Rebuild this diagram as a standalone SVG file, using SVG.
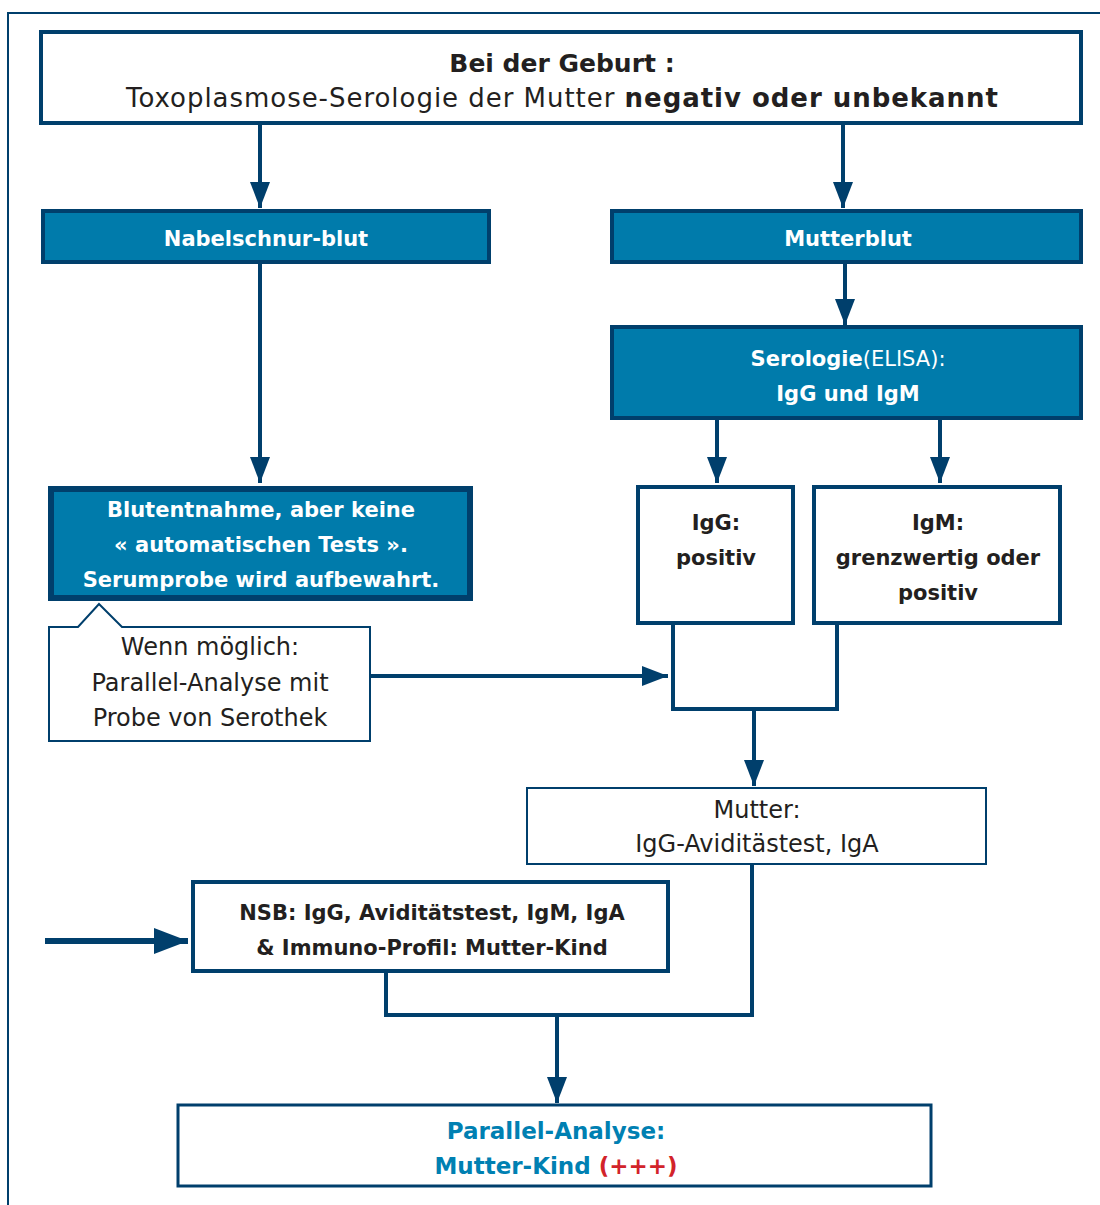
<svg xmlns="http://www.w3.org/2000/svg" width="1100" height="1205" viewBox="0 0 1100 1205">
<defs>
<marker id="ah" markerUnits="userSpaceOnUse" markerWidth="28" markerHeight="20" refX="26" refY="10" orient="auto">
<path d="M0,0 L26,10 L0,20 z" fill="#003f6c"/>
</marker>
<marker id="ah2" markerUnits="userSpaceOnUse" markerWidth="36" markerHeight="28" refX="34" refY="13" orient="auto">
<path d="M0,0 L34,13 L0,26 z" fill="#003f6c"/>
</marker>
<style>
.t{font-family:"DejaVu Sans","Open Sans",sans-serif;text-anchor:middle;fill:#231f20}
.b{font-weight:bold}
.w{fill:#ffffff}
.box{fill:#ffffff;stroke:#003f6c}
.fill{fill:#007bab;stroke:#003f6c}
.ln{fill:none;stroke:#003f6c;stroke-width:4}
</style>
</defs>
<rect width="1100" height="1205" fill="#ffffff"/>
<path d="M8,1205 V13 H1100" fill="none" stroke="#003f6c" stroke-width="2"/>

<g id="top">
<rect class="box" x="41" y="32" width="1040" height="91" stroke-width="4"/>
<text class="t b" x="562" y="72" font-size="25">Bei der Geburt :</text>
<text class="t" x="562" y="107" font-size="26" textLength="872" lengthAdjust="spacing">Toxoplasmose-Serologie der Mutter <tspan class="b">negativ oder unbekannt</tspan></text>
</g>

<g id="nabel">
<rect class="fill" x="43" y="211" width="446" height="51" stroke-width="4"/>
<text class="t b w" x="266" y="246" font-size="21">Nabelschnur-blut</text>
</g>

<g id="mutterblut">
<rect class="fill" x="612" y="211" width="469" height="51" stroke-width="4"/>
<text class="t b w" x="848" y="246" font-size="21">Mutterblut</text>
</g>

<g id="serologie">
<rect class="fill" x="612" y="327" width="469" height="91" stroke-width="4"/>
<text class="t w" x="848" y="366" font-size="21"><tspan class="b">Serologie</tspan>(ELISA):</text>
<text class="t b w" x="848" y="401" font-size="21">IgG und IgM</text>
</g>

<g id="blutentnahme">
<rect class="fill" x="51" y="489" width="419" height="109" stroke-width="6"/>
<text class="t b w" x="261" y="517" font-size="21">Blutentnahme, aber keine</text>
<text class="t b w" x="261" y="552" font-size="21">« automatischen Tests ».</text>
<text class="t b w" x="261" y="587" font-size="21">Serumprobe wird aufbewahrt.</text>
</g>

<g id="wenn">
<path class="box" d="M49,627 H78 L99,604 L122,627 H370 V741 H49 Z" stroke-width="2"/>
<text class="t" x="210" y="655" font-size="24">Wenn möglich:</text>
<text class="t" x="210" y="691" font-size="24">Parallel-Analyse mit</text>
<text class="t" x="210" y="726" font-size="24">Probe von Serothek</text>
</g>

<g id="igg">
<rect class="box" x="638" y="487" width="155" height="136" stroke-width="4"/>
<text class="t b" x="716" y="530" font-size="21">IgG:</text>
<text class="t b" x="716" y="565" font-size="21">positiv</text>
</g>

<g id="igm">
<rect class="box" x="814" y="487" width="246" height="136" stroke-width="4"/>
<text class="t b" x="938" y="530" font-size="21">IgM:</text>
<text class="t b" x="938" y="565" font-size="21">grenzwertig oder</text>
<text class="t b" x="938" y="600" font-size="21">positiv</text>
</g>

<g id="mutter">
<rect class="box" x="527" y="788" width="459" height="76" stroke-width="2"/>
<text class="t" x="757" y="818" font-size="24">Mutter:</text>
<text class="t" x="757" y="852" font-size="24">IgG-Aviditästest, IgA</text>
</g>

<g id="nsb">
<rect class="box" x="193" y="882" width="475" height="89" stroke-width="4"/>
<text class="t b" x="432" y="920" font-size="21">NSB: IgG, Aviditätstest, IgM, IgA</text>
<text class="t b" x="432" y="955" font-size="21">&amp; Immuno-Profil: Mutter-Kind</text>
</g>

<g id="parallel">
<rect class="box" x="178" y="1105" width="753" height="81" stroke-width="3"/>
<text class="t b" x="556" y="1139" font-size="23" style="fill:#0080b2">Parallel-Analyse:</text>
<text class="t b" x="556" y="1174" font-size="23" style="fill:#0080b2">Mutter-Kind <tspan style="fill:#d2232a">(+++)</tspan></text>
</g>

<g id="connectors">
<line class="ln" x1="260" y1="124" x2="260" y2="208" marker-end="url(#ah)"/>
<line class="ln" x1="843" y1="124" x2="843" y2="208" marker-end="url(#ah)"/>
<line class="ln" x1="845" y1="263" x2="845" y2="325" marker-end="url(#ah)"/>
<line class="ln" x1="260" y1="263" x2="260" y2="483" marker-end="url(#ah)"/>
<line class="ln" x1="717" y1="419" x2="717" y2="483" marker-end="url(#ah)"/>
<line class="ln" x1="940" y1="419" x2="940" y2="483" marker-end="url(#ah)"/>
<path class="ln" d="M673,624 V709 H837 V624"/>
<line class="ln" x1="754" y1="709" x2="754" y2="786" marker-end="url(#ah)"/>
<line class="ln" x1="371" y1="676" x2="668" y2="676" marker-end="url(#ah)"/>
<path class="ln" d="M386,972 V1015 H752 V864"/>
<line class="ln" x1="557" y1="1015" x2="557" y2="1103" marker-end="url(#ah)"/>
<line x1="45" y1="941" x2="188" y2="941" stroke="#003f6c" stroke-width="6" marker-end="url(#ah2)"/>
</g>
</svg>
